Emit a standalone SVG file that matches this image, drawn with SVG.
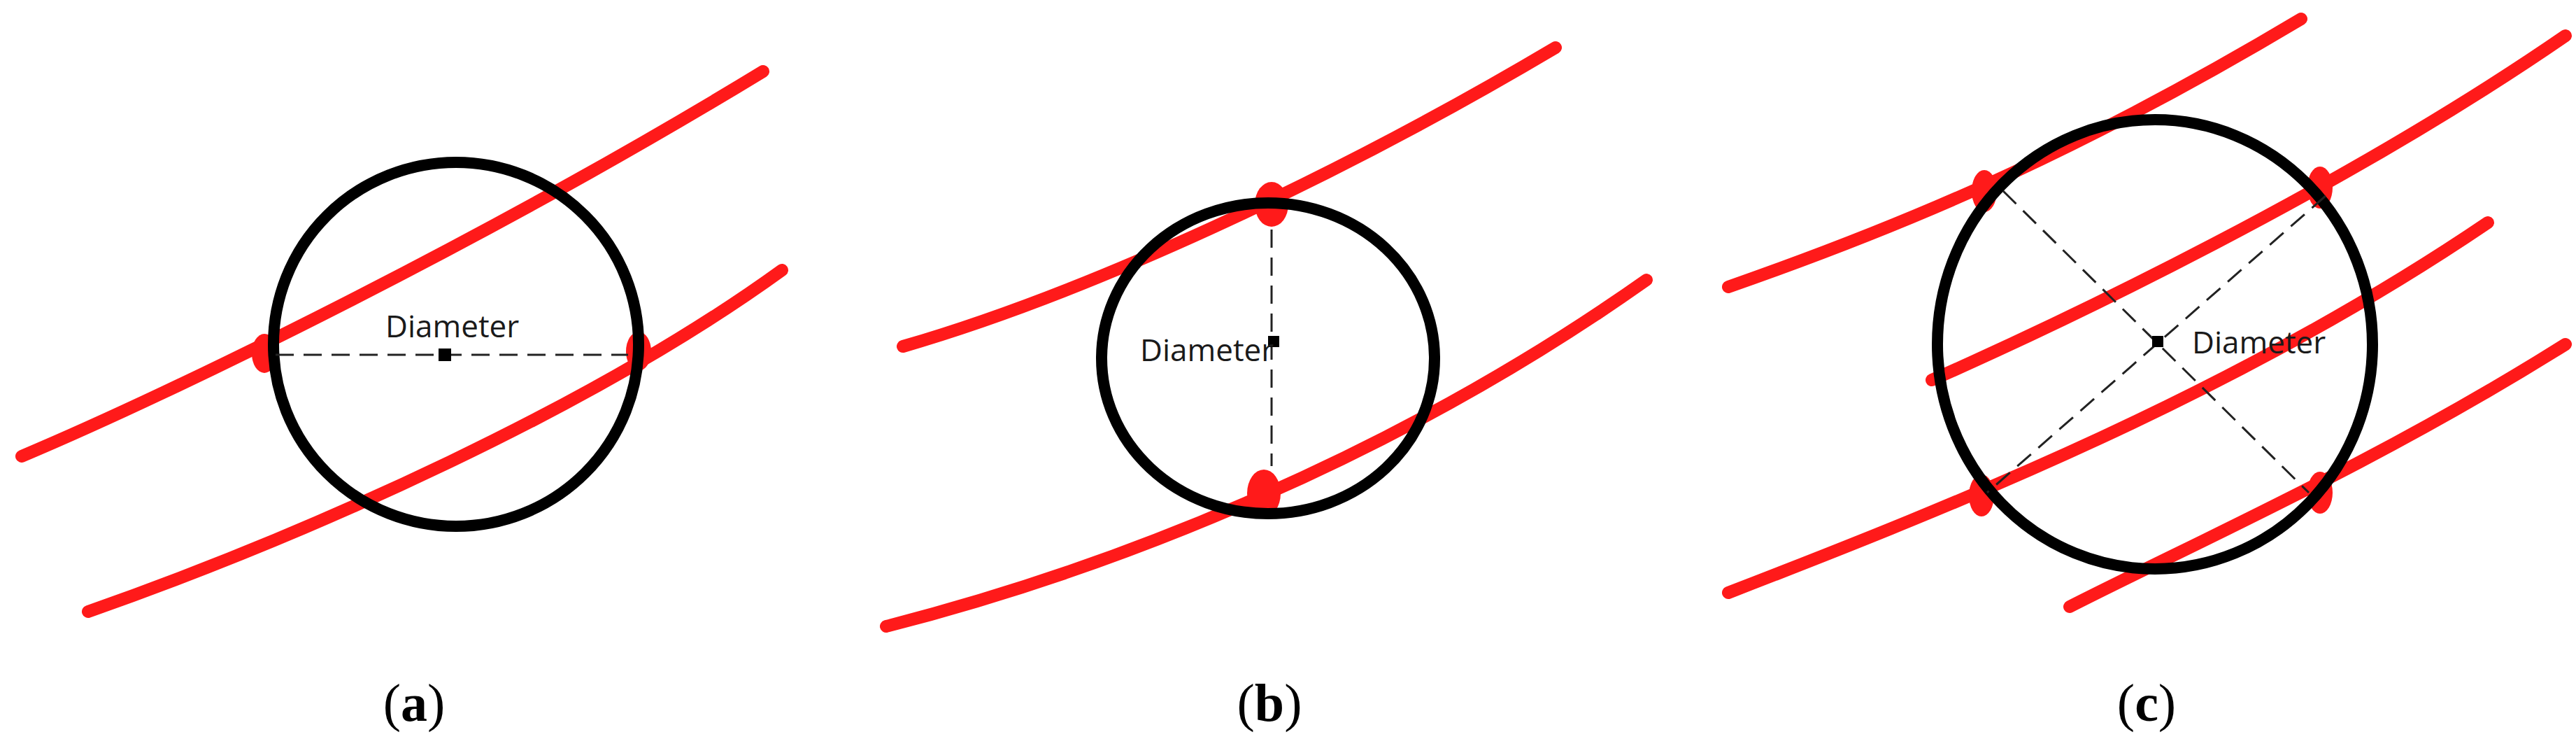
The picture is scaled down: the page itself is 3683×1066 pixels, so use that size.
<svg xmlns="http://www.w3.org/2000/svg" width="3683" height="1066" viewBox="0 0 3683 1066">
<style>
.r{fill:none;stroke:#ff1a1a;stroke-width:18;stroke-linecap:round}
.c{fill:none;stroke:#000;stroke-width:16}
.d{fill:none;stroke:#222;stroke-width:3;stroke-dasharray:26 14}
.b{fill:#ff1a1a}
.t{font-family:"Open Sans",sans-serif;font-size:44px;fill:#1a1a1a}
.l{font-family:"Liberation Serif",serif;font-size:76px;fill:#000;text-anchor:middle}
</style>
<rect width="3683" height="1066" fill="#fff"/>
<g id="panel-a">
<path class="r" d="M31,652 C250,560 700,340 1091,102"/>
<path class="r" d="M126,874 C450,760 850,580 1118,386"/>
<ellipse class="b" cx="378" cy="505" rx="18" ry="28"/>
<ellipse class="b" cx="913" cy="502" rx="18" ry="28"/>
<ellipse class="c" cx="652" cy="492" rx="261" ry="260"/>
<line class="d" x1="394" y1="507" x2="898" y2="507"/>
<rect x="627" y="498" width="18" height="18" fill="#000"/>
<text class="t" x="551" y="482">Diameter</text>
<text class="l" x="592" y="1030">(<tspan font-weight="bold">a</tspan>)</text>
</g>
<g id="panel-b">
<path class="r" d="M1291,495 C1550,420 1900,260 2224,68"/>
<path class="r" d="M1267,895 C1600,810 2000,650 2354,400"/>
<ellipse class="b" cx="1818" cy="292" rx="24" ry="32"/>
<ellipse class="b" cx="1807" cy="705" rx="24" ry="34"/>
<ellipse class="c" cx="1813" cy="512" rx="238" ry="222"/>
<line class="d" x1="1818" y1="328" x2="1818" y2="666"/>
<rect x="1813" y="480" width="16" height="16" fill="#000"/>
<text class="t" x="1630" y="516">Diameter</text>
<text class="l" x="1815" y="1030">(<tspan font-weight="bold">b</tspan>)</text>
</g>
<g id="panel-c">
<path class="r" d="M2471,410 C2700,330 2950,230 3290,27"/>
<path class="r" d="M2762,543 C2950,460 3350,270 3668,51"/>
<path class="r" d="M2471,847 C2800,720 3200,560 3557,318"/>
<path class="r" d="M2959,867 C3150,770 3400,660 3668,492"/>
<ellipse class="b" cx="2837" cy="273" rx="18" ry="30"/>
<ellipse class="b" cx="3317" cy="268" rx="18" ry="30"/>
<ellipse class="b" cx="2833" cy="708" rx="18" ry="30"/>
<ellipse class="b" cx="3317" cy="704" rx="18" ry="30"/>
<ellipse class="c" cx="3081" cy="492" rx="311" ry="321"/>
<line class="d" x1="2864" y1="273" x2="3301" y2="704"/>
<line class="d" x1="3325" y1="280" x2="2841" y2="704"/>
<rect x="3077" y="480" width="16" height="16" fill="#000"/>
<text class="t" x="3134" y="505">Diameter</text>
<text class="l" x="3069" y="1030">(<tspan font-weight="bold">c</tspan>)</text>
</g>
<g id="connectors"/>
</svg>
